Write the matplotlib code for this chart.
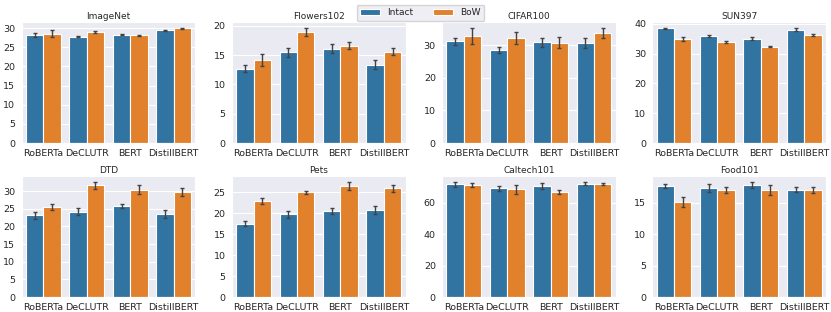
import numpy as np
import seaborn as sns
from matplotlib import pyplot as plt
from matplotlib.ticker import MultipleLocator

models = ['RoBERTa', 'DeCLUTR', 'BERT', 'DistillBERT']
datasets = ['ImageNet', 'Flowers102', 'CIFAR100', 'SUN397',
            'DTD', 'Pets', 'Caltech101', 'Food101']
tick_step = [5, 5, 10, 10, 5, 5, 20, 5]

# mean accuracy per dataset (order of models above)
intact = [
    [28.2, 27.8, 28.3, 29.4],
    [12.7, 15.5, 16.1, 13.4],
    [31.2, 28.5, 30.9, 30.7],
    [38.5, 36.0, 35.0, 38.0],
    [23.1, 24.2, 25.8, 23.5],
    [17.5, 19.7, 20.5, 20.8],
    [71.5, 69.0, 70.3, 72.0],
    [17.7, 17.4, 17.9, 17.1],
]
bow = [
    [28.6, 29.0, 28.1, 30.0],
    [14.2, 19.0, 16.6, 15.6],
    [32.9, 32.3, 30.8, 33.8],
    [35.0, 33.8, 32.3, 36.2],
    [25.5, 31.6, 30.4, 29.8],
    [22.8, 24.9, 26.5, 25.9],
    [71.0, 68.3, 66.7, 72.0],
    [15.2, 17.0, 17.1, 17.0],
]
# half-width of error bars
intact_err = [
    [0.5, 0.2, 0.2, 0.1],
    [0.6, 0.8, 0.8, 0.7],
    [1.0, 1.0, 1.3, 1.4],
    [0.2, 0.3, 0.6, 0.6],
    [1.1, 1.1, 0.6, 1.2],
    [0.7, 0.9, 0.8, 1.0],
    [1.8, 1.4, 2.0, 0.8],
    [0.3, 0.6, 0.5, 0.4],
]
bow_err = [
    [0.9, 0.2, 0.1, 0.15],
    [1.0, 0.7, 0.6, 0.6],
    [2.5, 1.8, 1.6, 1.6],
    [0.7, 0.3, 0.2, 0.2],
    [0.9, 1.1, 1.2, 1.1],
    [0.7, 0.4, 1.0, 0.8],
    [1.2, 3.0, 1.2, 0.6],
    [0.8, 0.5, 0.8, 0.5],
]

sns.set_style('darkgrid')
plt.rcParams['font.family'] = ['DejaVu Sans']
blue, orange = '#3274a1', '#e1812c'

fig, axes = plt.subplots(2, 4, figsize=(8.31, 3.12), dpi=100)
plt.subplots_adjust(left=0.026, right=0.994, top=0.93, bottom=0.048,
                    wspace=0.21, hspace=0.27)

x = np.arange(len(models))
w = 0.4
for i, ax in enumerate(axes.flat):
    ax.bar(x - w / 2, intact[i], w, color=blue, edgecolor='white',
           linewidth=0.8, label='Intact')
    ax.bar(x + w / 2, bow[i], w, color=orange, edgecolor='white',
           linewidth=0.8, label='BoW')
    ax.errorbar(x - w / 2, intact[i], yerr=intact_err[i], fmt='none',
                ecolor='#424242', elinewidth=1, capsize=1.5, capthick=1)
    ax.errorbar(x + w / 2, bow[i], yerr=bow_err[i], fmt='none',
                ecolor='#424242', elinewidth=1, capsize=1.5, capthick=1)
    ax.set_xticks(x)
    ax.set_xticklabels(models)
    ax.set_xlim(-0.5, 3.5)
    ax.grid(axis='x', visible=False)
    ax.yaxis.set_major_locator(MultipleLocator(tick_step[i]))
    ax.tick_params(axis='both', labelsize=6.8, pad=1)
    ax.set_title(datasets[i], fontsize=6.5, pad=2)

handles, labels = axes[0, 0].get_legend_handles_labels()
fig.legend(handles, labels, loc='upper center', ncol=2, fontsize=6.5,
           bbox_to_anchor=(0.506, 1.0), frameon=True, handlelength=2.2,
           columnspacing=2.2, borderpad=0.4)

plt.savefig('out.png')
